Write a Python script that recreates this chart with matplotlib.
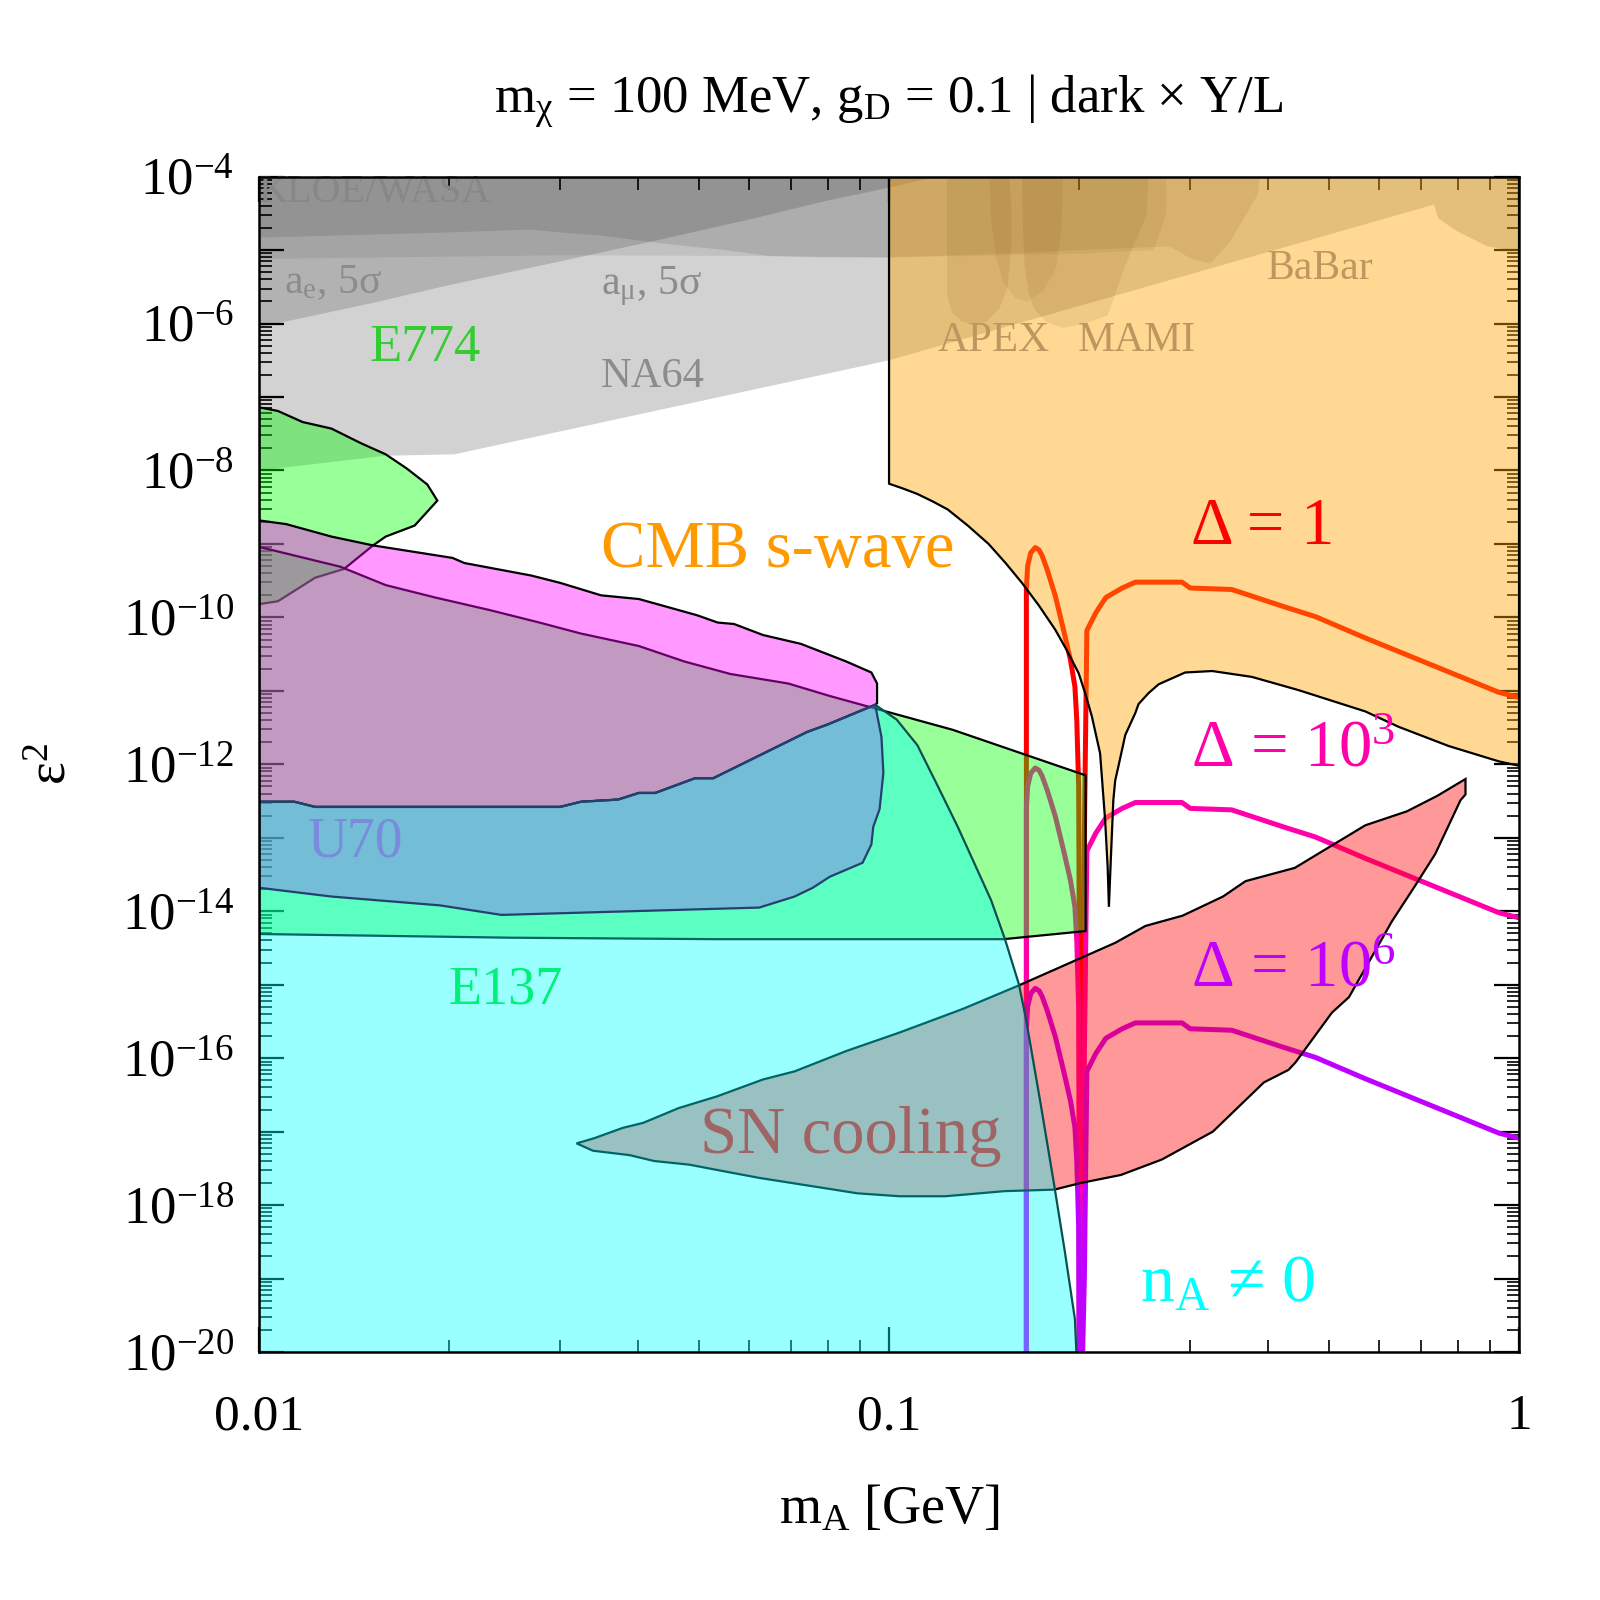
"""
Dark photon parameter space: m_chi = 100 MeV, g_D = 0.1 (dark x Y/L)
Exclusion regions + Delta contours, values read off the reference plot.
All arrays are log10 values: lm = log10(m_A / GeV), le = log10(eps^2).
"""
import numpy as np
import matplotlib.pyplot as plt
from matplotlib.colors import to_rgba
from matplotlib.ticker import FixedLocator, FixedFormatter, LogLocator, NullFormatter

plt.rcParams['font.family'] = ['Liberation Serif', 'DejaVu Serif']
plt.rcParams['mathtext.fontset'] = 'custom'
plt.rcParams['mathtext.rm'] = 'Liberation Serif'
plt.rcParams['mathtext.it'] = 'Liberation Serif:italic'

# ---------------- grey exclusions (top) ----------------
na64_lm = [-2.0, -1.80, -1.69, -1.0, -0.135, -0.128, -0.097, -0.05, 0.0, 0.0, -2.0]
na64_le = [-8.0, -7.80, -7.78, -6.50, -4.38, -4.57, -4.75, -4.95, -5.02, -3.9, -3.9]

ae_lm = [-2.0, -1.82, -1.70, -1.52, -1.365, -1.22, -1.10, -1.0, -0.90, -0.90, -2.0]
ae_le = [-6.05, -5.72, -5.48, -5.15, -4.86, -4.58, -4.33, -4.15, -3.95, -3.9, -3.9]

amu_lm = [-2.0, -1.52, -1.22, -1.0, -0.70, -0.58, -0.56, -0.56, -2.0]
amu_le = [-5.12, -5.07, -5.08, -5.10, -5.05, -5.0, -4.5, -3.9, -3.9]

kloe_lm = [-2.0, -1.70, -1.57, -1.52, -1.46, -1.35, -1.26, -1.19, -1.10, -1.0,
           -0.82, -0.70, -0.555, -0.52, -0.49, -0.46, -0.43, -0.415, -0.41, -2.0]
kloe_le = [-4.83, -4.76, -4.72, -4.76, -4.80, -4.92, -5.0, -5.08, -5.10, -5.10,
           -5.05, -5.0, -4.95, -5.12, -5.18, -4.9, -4.47, -4.25, -3.9, -3.9]

apex_lm = [-0.908, -0.908, -0.900, -0.885, -0.865, -0.845, -0.825, -0.812, -0.806, -0.806, -0.81]
apex_le = [-3.9, -5.6, -5.85, -5.97, -6.02, -5.97, -5.8, -5.5, -5.0, -4.4, -3.9]

mami_lm = [-0.789, -0.788, -0.785, -0.778, -0.770, -0.750, -0.724, -0.69, -0.653, -0.627,
           -0.605, -0.591, -0.588]
mami_le = [-3.9, -4.6, -5.2, -5.6, -5.80, -5.98, -6.06, -6.0, -5.89, -5.25, -4.8, -4.52, -3.9]

inner_lm = [-0.841, -0.838, -0.830, -0.818, -0.80, -0.78, -0.755, -0.735, -0.726, -0.724]
inner_le = [-3.9, -4.6, -5.1, -5.45, -5.65, -5.70, -5.55, -5.25, -4.7, -3.9]

# ---------------- coloured exclusions ----------------
e774_lm = [-2.0, -1.970, -1.931, -1.885, -1.838, -1.799, -1.766, -1.733, -1.717,
           -1.753, -1.799, -1.819, -1.865, -1.911, -1.970, -2.0]
e774_le = [-7.14, -7.19, -7.34, -7.43, -7.63, -7.78, -7.97, -8.19, -8.41,
           -8.75, -8.90, -9.02, -9.34, -9.46, -9.78, -9.82]

e137_lm = [-2.0, -1.871, -1.799, -1.720, -1.634, -1.555, -1.489, -1.397, -1.325, -1.252,
           -1.160, -1.094, -1.022, -0.899, -0.688, -0.688, -0.818, -1.279, -1.603, -2.0]
e137_le = [-9.04, -9.31, -9.56, -9.73, -9.90, -10.07, -10.22, -10.39, -10.60, -10.77,
           -10.90, -11.07, -11.24, -11.53, -12.15, -14.27, -14.38, -14.38, -14.36, -14.31]

# magenta region: upper edge left->right, lower edge tip->left
mag_top_lm = [-2.0, -1.957, -1.885, -1.819, -1.693, -1.674, -1.568, -1.522, -1.457, -1.397,
              -1.305, -1.272, -1.246, -1.200, -1.140, -1.068, -1.028, -1.019, -1.019]
mag_top_le = [-8.68, -8.73, -8.90, -9.02, -9.19, -9.26, -9.43, -9.53, -9.70, -9.75,
              -9.97, -10.07, -10.09, -10.24, -10.36, -10.60, -10.75, -10.90, -11.17]
mag_low_lm = [-1.022, -1.098, -1.130, -1.279, -1.308, -1.371, -1.397, -1.430, -1.489,
              -1.522, -1.911, -1.944, -2.0]
mag_low_le = [-11.19, -11.46, -11.56, -12.19, -12.19, -12.39, -12.39, -12.48, -12.51,
              -12.58, -12.58, -12.51, -12.51]

u70_edge_lm = [-1.012, -1.009, -1.015, -1.025, -1.028, -1.042, -1.094, -1.121, -1.15,
               -1.206, -1.615, -1.713, -1.885, -2.0]
u70_edge_le = [-11.63, -12.12, -12.61, -12.85, -13.09, -13.34, -13.53, -13.68, -13.80,
               -13.95, -14.05, -13.92, -13.80, -13.68]

na_edge_lm = [-0.988, -0.955, -0.923, -0.891, -0.874, -0.838, -0.816, -0.794, -0.783,
              -0.760, -0.738, -0.721, -0.705, -0.700]
na_edge_le = [-11.39, -11.74, -12.29, -12.85, -13.17, -13.85, -14.38, -14.99, -15.45,
              -16.59, -17.72, -18.63, -19.55, -20.5]

sn_lm = [-1.496, -1.468, -1.423, -1.390, -1.334, -1.273, -1.200, -1.150, -1.067, -0.983,
         -0.883, -0.794, -0.641, -0.593, -0.534, -0.470, -0.434, -0.356, -0.244, -0.178,
         -0.130, -0.085,
         -0.085, -0.093, -0.133, -0.164, -0.202, -0.270, -0.297, -0.355, -0.366, -0.405,
         -0.486, -0.567, -0.632, -0.696, -0.738, -0.816, -0.911, -0.983, -1.050, -1.139,
         -1.206, -1.262, -1.317, -1.373, -1.412, -1.470]
sn_le = [-17.16, -17.09, -16.95, -16.88, -16.68, -16.52, -16.29, -16.18, -15.90, -15.65,
         -15.33, -15.01, -14.43, -14.20, -14.06, -13.80, -13.59, -13.41, -12.83, -12.64,
         -12.43, -12.20,
         -12.41, -12.49, -13.22, -13.64, -14.14, -15.17, -15.38, -16.06, -16.16, -16.33,
         -17.00, -17.38, -17.59, -17.70, -17.79, -17.81, -17.88, -17.88, -17.84, -17.72,
         -17.63, -17.54, -17.45, -17.40, -17.32, -17.26]

cmb_lm = [-1.0, -1.0, -0.978, -0.955, -0.931, -0.907, -0.875, -0.842, -0.815, -0.789,
          -0.762, -0.736, -0.717, -0.699, -0.688, -0.678, -0.665,
          -0.657, -0.653, -0.651, -0.648, -0.644, -0.641, -0.636, -0.625, -0.609, -0.604,
          -0.588, -0.572, -0.530, -0.487, -0.424, -0.350, -0.244, -0.191, -0.112, -0.032,
          0.0, 0.0]
cmb_le = [-3.9, -8.18, -8.245, -8.32, -8.42, -8.53, -8.75, -9.00, -9.26, -9.53,
          -9.84, -10.17, -10.46, -10.76, -11.05, -11.35, -11.85,
          -12.76, -13.40, -13.94, -13.30, -12.49, -12.22, -12.03, -11.60, -11.30, -11.18,
          -11.03, -10.91, -10.75, -10.73, -10.81, -10.99, -11.28, -11.49, -11.75, -11.96,
          -12.02, -3.9]

# ---------------- Delta contours ----------------
delta_lm = [-0.782, -0.782, -0.780, -0.775, -0.768, -0.762, -0.757, -0.749, -0.736, -0.723,
            -0.712, -0.705, -0.702, -0.699, -0.698, -0.698, -0.694, -0.690, -0.686, -0.672,
            -0.656, -0.630, -0.609, -0.535, -0.522, -0.456, -0.371, -0.323, -0.244, -0.138,
            -0.032, 0.0]
delta1_le = [-20.5, -9.6, -9.3, -9.12, -9.05, -9.08, -9.16, -9.35, -9.71, -10.17,
             -10.58, -10.94, -11.40, -12.31, -14.5, -20.5, -20.5, -13.0, -10.18, -9.94,
             -9.73, -9.60, -9.52, -9.52, -9.60, -9.62, -9.86, -9.99, -10.28, -10.65,
             -11.02, -11.09]
delta3_le = [-20.5, -12.6, -12.3, -12.12, -12.05, -12.08, -12.16, -12.35, -12.71, -13.17,
             -13.58, -13.94, -14.40, -15.31, -17.5, -20.5, -20.5, -16.0, -13.18, -12.94,
             -12.73, -12.60, -12.52, -12.52, -12.60, -12.62, -12.86, -12.99, -13.28, -13.65,
             -14.02, -14.09]
delta6_le = [-20.5, -15.6, -15.3, -15.12, -15.05, -15.08, -15.16, -15.35, -15.71, -16.17,
             -16.58, -16.94, -17.40, -18.31, -20.5, -20.5, -20.5, -19.0, -16.18, -15.94,
             -15.73, -15.60, -15.52, -15.52, -15.60, -15.62, -15.86, -15.99, -16.28, -16.65,
             -17.02, -17.09]


def pw(v):
    return np.power(10.0, np.asarray(v, dtype=float))


def region(ax, lm, le, face, alpha, edge='k', lw=0.8, z=3):
    ax.fill(pw(lm), pw(le), facecolor=to_rgba(face, alpha), edgecolor=edge,
            linewidth=lw, zorder=z)


fig = plt.figure(figsize=(8, 8), dpi=200)
ax = fig.add_axes([0.1619, 0.155, 0.7875, 0.7346])
ax.set_xscale('log')
ax.set_yscale('log')
ax.set_xlim(0.01, 1)
ax.set_ylim(1e-20, 1e-4)

# grey layers
region(ax, na64_lm, na64_le, '#d2d2d2', 1.0, edge='none', z=1)
for lm, le, a in [(ae_lm, ae_le, 0.15), (amu_lm, amu_le, 0.08), (kloe_lm, kloe_le, 0.10),
                  (apex_lm, apex_le, 0.10), (mami_lm, mami_le, 0.10), (inner_lm, inner_le, 0.08)]:
    region(ax, lm, le, 'k', a, edge='none', z=1.2)

# Delta lines (under the semi-transparent regions)
ax.plot(pw(delta_lm), pw(delta1_le), color='#FF0000', lw=1.8, zorder=2, solid_joinstyle='round')
ax.plot(pw(delta_lm), pw(delta3_le), color='#FF00AA', lw=1.8, zorder=2, solid_joinstyle='round')
ax.plot(pw(delta_lm), pw(delta6_le), color='#BF00FF', lw=1.8, zorder=2, solid_joinstyle='round')

# coloured regions
region(ax, e774_lm, e774_le, '#00FF00', 0.4, z=3)
region(ax, e137_lm, e137_le, '#00FF00', 0.4, z=3.1)
region(ax, mag_top_lm + mag_low_lm, mag_top_le + mag_low_le, '#FF00FF', 0.4, z=3.2)
region(ax, sn_lm, sn_le, '#FF0000', 0.4, z=3.3)
na_lm = [-2.0] + mag_low_lm[::-1] + na_edge_lm + [-2.0]
na_le = [-20.5] + mag_low_le[::-1] + na_edge_le + [-20.5]
region(ax, na_lm, na_le, '#00FFFF', 0.4, edge='#0b4f4f', z=3.4)
u70_lm = mag_low_lm[::-1] + u70_edge_lm
u70_le = mag_low_le[::-1] + u70_edge_le
region(ax, u70_lm, u70_le, '#9A5CF6', 0.4, edge='#24406e', z=3.5)
region(ax, cmb_lm, cmb_le, '#FFA500', 0.42, edge='k', lw=0.8, z=4)

# labels
labels = [
    ('KLOE/WASA', -2.0, -4.21, '#878787', 14.5),
    (r'$\mathregular{a_e}$, 5σ', -1.960, -5.44, '#8c8c8c', 15),
    (r'$\mathregular{a_μ}$, 5σ', -1.457, -5.49, '#8c8c8c', 15),
    ('NA64', -1.457, -6.73, '#8c8c8c', 15.3),
    ('E774', -1.825, -6.33, '#33CC33', 19),
    ('APEX', -0.923, -6.23, '#BE965F', 15.5),
    ('MAMI', -0.700, -6.23, '#BE965F', 15),
    ('BaBar', -0.400, -5.25, '#BE965F', 15),
    ('CMB s-wave', -1.457, -9.09, '#FF9900', 24),
    ('Δ = 1', -0.521, -8.78, '#FF0000', 24),
    (r'Δ = $\mathregular{10^{3}}$', -0.521, -11.80, '#FF00AA', 24),
    (r'Δ = $\mathregular{10^{6}}$', -0.521, -14.80, '#BF00FF', 24),
    ('U70', -1.922, -13.06, '#7A8ADC', 20),
    ('E137', -1.700, -15.08, '#00F078', 19.5),
    ('SN cooling', -1.300, -17.06, '#A06464', 24),
    (r'$\mathregular{n_A}$ ≠ 0', -0.602, -19.09, '#00FFFF', 24.5),
]
for txt, lx, ly, col, fs in labels:
    ax.text(10 ** lx, 10 ** ly, txt, color=col, fontsize=fs, ha='left', va='center', zorder=10)

# axes, ticks
ax.xaxis.set_major_locator(FixedLocator([0.01, 0.1, 1]))
ax.xaxis.set_major_formatter(FixedFormatter(['0.01', '0.1', '1']))
ax.xaxis.set_minor_locator(LogLocator(base=10, subs=np.arange(2, 10)))
ax.xaxis.set_minor_formatter(NullFormatter())

y_major = [10.0 ** e for e in range(-20, -3)]
y_labels = [r'$\mathregular{10^{%d}}$' % e if e % 2 == 0 else '' for e in range(-20, -3)]
ax.yaxis.set_major_locator(FixedLocator(y_major))
ax.yaxis.set_major_formatter(FixedFormatter(y_labels))
ax.yaxis.set_minor_locator(LogLocator(base=10, subs=np.arange(2, 10), numticks=40))
ax.yaxis.set_minor_formatter(NullFormatter())

ax.tick_params(which='both', direction='in', top=True, right=True)
ax.tick_params(axis='x', which='major', length=9, width=0.8, pad=15, labelsize=18.5)
ax.tick_params(axis='y', which='major', length=9, width=0.8, pad=9, labelsize=19)
ax.tick_params(which='minor', length=4.5, width=0.6)
for s in ax.spines.values():
    s.set_linewidth(0.9)
    s.set_zorder(12)

ax.set_xlabel(r'$\mathregular{m_A}$ [GeV]', fontsize=19.5, labelpad=16)
ax.set_ylabel(r'$\mathregular{ε^2}$', fontsize=19.5, labelpad=16)
ax.set_title(r'$\mathregular{m_χ}$ = 100 MeV, $\mathregular{g_D}$ = 0.1 | dark × Y/L',
             fontsize=19, pad=23)

fig.savefig('out.png', dpi=200)
